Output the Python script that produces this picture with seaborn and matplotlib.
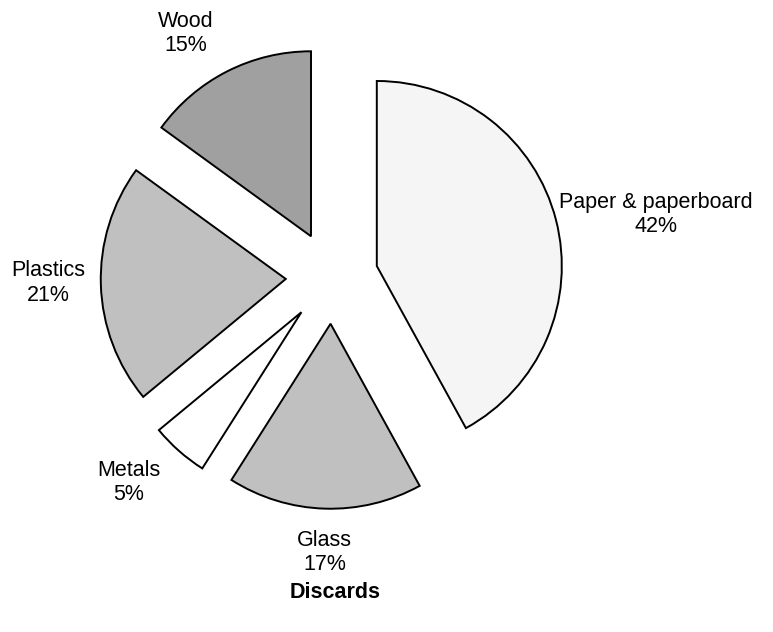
import matplotlib
matplotlib.use("Agg")
import matplotlib.pyplot as plt
import seaborn as sns

# Discards by material (share of total)
materials = ['Paper & paperboard', 'Glass', 'Metals', 'Plastics', 'Wood']
shares = [42, 17, 5, 21, 15]
colors = ['#f5f5f5', '#c0c0c0', '#ffffff', '#c0c0c0', '#a0a0a0']

sns.set_theme(style="white")
plt.rcParams['font.family'] = ['Liberation Sans', 'DejaVu Sans']
plt.rcParams['text.color'] = 'black'

fig = plt.figure(figsize=(7.73, 6.32), dpi=100)
ax = fig.add_axes([0, 0, 1, 1])

wedges, _ = ax.pie(shares, colors=colors, startangle=90, counterclock=False,
                   explode=[0.25] * len(shares), radius=1.0,
                   wedgeprops=dict(edgecolor='black', linewidth=1.4))

# label anchors in units of the pie radius (layout only)
label_pos = [(1.75, 0.34), (-0.04, -1.485), (-1.10, -1.11), (-1.535, -0.03), (-0.79, 1.32)]
for name, val, (lx, ly) in zip(materials, shares, label_pos):
    ax.text(lx, ly, f"{name}\n{val}%", ha='center', va='center',
            fontsize=15.5, linespacing=1.2, color='black')

ax.set_xlim(-332 / 185, (773 - 332) / 185)
ax.set_ylim(-(632 - 277.5) / 185, 277.5 / 185)
ax.set_aspect('auto')
ax.axis('off')

fig.text(335 / 773, 1 - 593 / 632, 'Discards', ha='center', va='center',
         fontsize=15.5, fontweight='bold', color='black')

fig.savefig('out.png', dpi=100)
